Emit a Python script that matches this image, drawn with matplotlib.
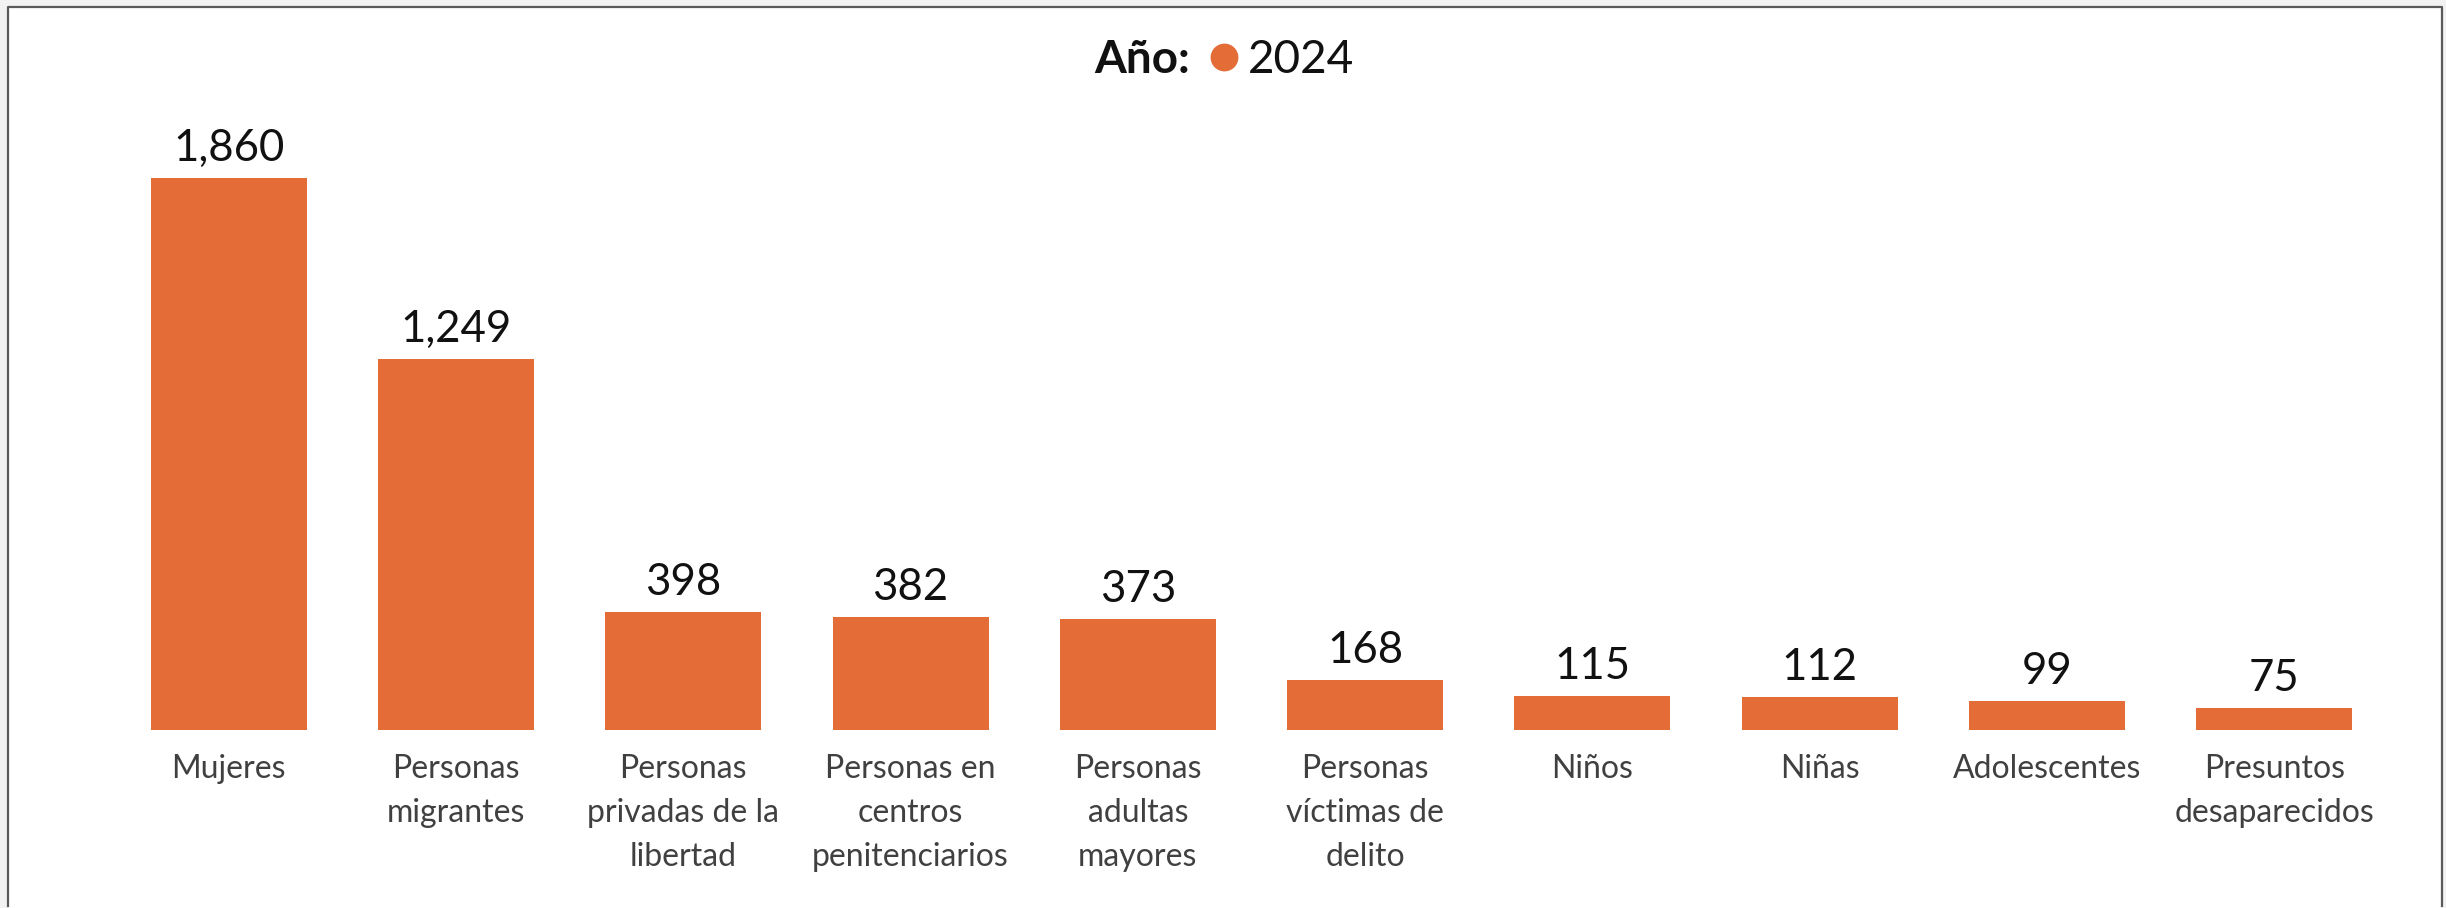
import matplotlib
matplotlib.use("Agg")
import matplotlib.pyplot as plt
from matplotlib.patches import Rectangle
from matplotlib.lines import Line2D

categorias = ["Mujeres", "Personas\nmigrantes", "Personas\nprivadas de la\nlibertad",
              "Personas en\ncentros\npenitenciarios", "Personas\nadultas\nmayores",
              "Personas\nvíctimas de\ndelito", "Niños", "Niñas", "Adolescentes",
              "Presuntos\ndesaparecidos"]
valores = [1860, 1249, 398, 382, 373, 168, 115, 112, 99, 75]
anio = "2024"

naranja = "#E46C37"
plt.rcParams["font.family"] = ["Lato", "DejaVu Sans"]

W, H = 2446, 908
fig = plt.figure(figsize=(W / 100, H / 100), dpi=100)
fig.patch.set_facecolor("#F2F2F2")

# marco blanco con borde gris
fig.add_artist(Rectangle((8 / W, 0), (2443 - 8) / W, (H - 7) / H, transform=fig.transFigure,
                         facecolor="white", edgecolor="none", zorder=0))
fig.add_artist(Line2D([8 / W, 8 / W, 2442 / W, 2442 / W], [2 / H, 1 - 7 / H, 1 - 7 / H, 2 / H],
                      transform=fig.transFigure, color="#5A5A5A", lw=1.6))

ax = fig.add_axes([115 / W, (H - 730) / H, 2273 / W, 600 / H])
ax.patch.set_alpha(0)
x = range(len(valores))
ax.bar(x, valores, width=0.686, color=naranja)
ax.set_xlim(-0.5, len(valores) - 0.5)
ax.set_ylim(0, 600 / 0.2968)

for i, v in zip(x, valores):
    ax.annotate(f"{v:,}", (i, v), xytext=(0, 6.5), textcoords="offset points",
                ha="center", va="bottom", fontsize=31.5, color="#111111")

ax.set_xticks(list(x))
ax.set_xticklabels(categorias, fontsize=23, color="#404040", linespacing=1.6, va="top")
ax.tick_params(axis="x", length=0, pad=17)
ax.set_yticks([])
for s in ax.spines.values():
    s.set_visible(False)

# leyenda como título
fig.text(1190 / W, 1 - 73 / H, "Año:", ha="right", va="baseline", fontsize=33,
         fontweight="bold", color="#111111")
fig.add_artist(Line2D([1224 / W], [1 - 57 / H], marker="o", markersize=19, color=naranja,
                      transform=fig.transFigure, linestyle="none"))
fig.text(1248 / W, 1 - 73 / H, anio, ha="left", va="baseline", fontsize=33, color="#111111")

fig.savefig("out.png", dpi=100, facecolor=fig.get_facecolor())
